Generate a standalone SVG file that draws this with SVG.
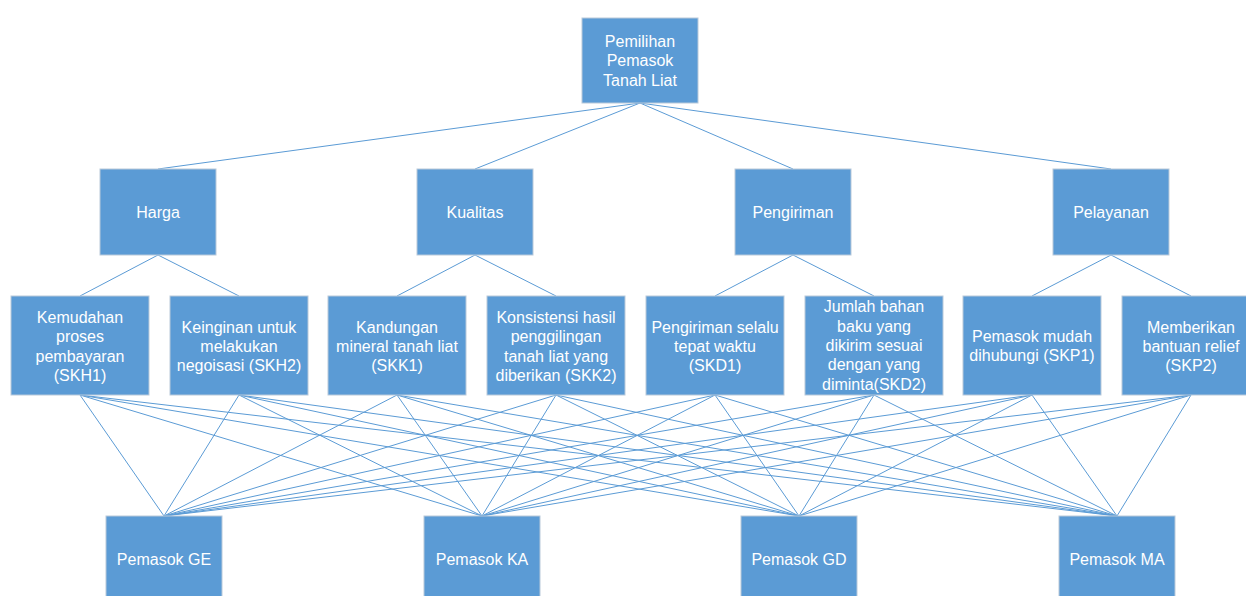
<svg xmlns="http://www.w3.org/2000/svg" width="1246" height="596" viewBox="0 0 1246 596">
  <style>
    .box { fill: #5b9bd5; stroke: #b9c9da; stroke-width: 1; }
    .lbl { fill: #ffffff; font-family: "Liberation Sans", Arial, sans-serif; font-size: 16px; text-anchor: middle; }
    .link { stroke: #5b9bd5; stroke-width: 1; fill: none; }
  </style>
  <rect width="1246" height="596" fill="#ffffff"/>

  <!-- connectors -->
  <g id="connectors" class="link">
    <!-- goal to criteria -->
    <line x1="640" y1="103" x2="158" y2="169"/>
    <line x1="640" y1="103" x2="475" y2="169"/>
    <line x1="640" y1="103" x2="793" y2="169"/>
    <line x1="640" y1="103" x2="1111" y2="169"/>
    <!-- criteria to sub-criteria -->
    <line x1="158" y1="255" x2="80" y2="296"/>
    <line x1="158" y1="255" x2="239" y2="296"/>
    <line x1="475" y1="255" x2="397" y2="296"/>
    <line x1="475" y1="255" x2="556" y2="296"/>
    <line x1="793" y1="255" x2="715" y2="296"/>
    <line x1="793" y1="255" x2="874" y2="296"/>
    <line x1="1111" y1="255" x2="1032" y2="296"/>
    <line x1="1111" y1="255" x2="1191" y2="296"/>
    <!-- sub-criteria to alternatives -->
    <line x1="80" y1="395" x2="164" y2="516"/><line x1="80" y1="395" x2="482" y2="516"/><line x1="80" y1="395" x2="799" y2="516"/><line x1="80" y1="395" x2="1117" y2="516"/>
    <line x1="239" y1="395" x2="164" y2="516"/><line x1="239" y1="395" x2="482" y2="516"/><line x1="239" y1="395" x2="799" y2="516"/><line x1="239" y1="395" x2="1117" y2="516"/>
    <line x1="397" y1="395" x2="164" y2="516"/><line x1="397" y1="395" x2="482" y2="516"/><line x1="397" y1="395" x2="799" y2="516"/><line x1="397" y1="395" x2="1117" y2="516"/>
    <line x1="556" y1="395" x2="164" y2="516"/><line x1="556" y1="395" x2="482" y2="516"/><line x1="556" y1="395" x2="799" y2="516"/><line x1="556" y1="395" x2="1117" y2="516"/>
    <line x1="715" y1="395" x2="164" y2="516"/><line x1="715" y1="395" x2="482" y2="516"/><line x1="715" y1="395" x2="799" y2="516"/><line x1="715" y1="395" x2="1117" y2="516"/>
    <line x1="874" y1="395" x2="164" y2="516"/><line x1="874" y1="395" x2="482" y2="516"/><line x1="874" y1="395" x2="799" y2="516"/><line x1="874" y1="395" x2="1117" y2="516"/>
    <line x1="1032" y1="395" x2="164" y2="516"/><line x1="1032" y1="395" x2="482" y2="516"/><line x1="1032" y1="395" x2="799" y2="516"/><line x1="1032" y1="395" x2="1117" y2="516"/>
    <line x1="1191" y1="395" x2="164" y2="516"/><line x1="1191" y1="395" x2="482" y2="516"/><line x1="1191" y1="395" x2="799" y2="516"/><line x1="1191" y1="395" x2="1117" y2="516"/>
  </g>

  <!-- goal -->
  <g id="goal">
    <rect class="box" x="582" y="18" width="116" height="85"/>
    <text class="lbl" x="640"><tspan x="640" y="47">Pemilihan</tspan><tspan x="640" y="66.4">Pemasok</tspan><tspan x="640" y="85.8">Tanah Liat</tspan></text>
  </g>

  <!-- criteria -->
  <g id="harga">
    <rect class="box" x="100" y="169" width="116" height="86"/>
    <text class="lbl" x="158" y="217.5">Harga</text>
  </g>
  <g id="kualitas">
    <rect class="box" x="417" y="169" width="116" height="86"/>
    <text class="lbl" x="475" y="217.5">Kualitas</text>
  </g>
  <g id="pengiriman">
    <rect class="box" x="735" y="169" width="116" height="86"/>
    <text class="lbl" x="793" y="217.5">Pengiriman</text>
  </g>
  <g id="pelayanan">
    <rect class="box" x="1053" y="169" width="116" height="86"/>
    <text class="lbl" x="1111" y="217.5">Pelayanan</text>
  </g>

  <!-- sub-criteria -->
  <g id="skh1">
    <rect class="box" x="11" y="296" width="138" height="99"/>
    <text class="lbl"><tspan x="80" y="322.9">Kemudahan</tspan><tspan x="80" y="342.3">proses</tspan><tspan x="80" y="361.7">pembayaran</tspan><tspan x="80" y="381.1">(SKH1)</tspan></text>
  </g>
  <g id="skh2">
    <rect class="box" x="170" y="296" width="138" height="99"/>
    <text class="lbl"><tspan x="239" y="332.6">Keinginan untuk</tspan><tspan x="239" y="352">melakukan</tspan><tspan x="239" y="371.4">negoisasi (SKH2)</tspan></text>
  </g>
  <g id="skk1">
    <rect class="box" x="328" y="296" width="138" height="99"/>
    <text class="lbl"><tspan x="397" y="332.6">Kandungan</tspan><tspan x="397" y="352">mineral tanah liat</tspan><tspan x="397" y="371.4">(SKK1)</tspan></text>
  </g>
  <g id="skk2">
    <rect class="box" x="487" y="296" width="138" height="99"/>
    <text class="lbl"><tspan x="556" y="322.9">Konsistensi hasil</tspan><tspan x="556" y="342.3">penggilingan</tspan><tspan x="556" y="361.7">tanah liat yang</tspan><tspan x="556" y="381.1">diberikan (SKK2)</tspan></text>
  </g>
  <g id="skd1">
    <rect class="box" x="646" y="296" width="138" height="99"/>
    <text class="lbl"><tspan x="715" y="332.6">Pengiriman selalu</tspan><tspan x="715" y="352">tepat waktu</tspan><tspan x="715" y="371.4">(SKD1)</tspan></text>
  </g>
  <g id="skd2">
    <rect class="box" x="805" y="296" width="138" height="99"/>
    <text class="lbl"><tspan x="874" y="312.2">Jumlah bahan</tspan><tspan x="874" y="331.6">baku yang</tspan><tspan x="874" y="351">dikirim sesuai</tspan><tspan x="874" y="370.4">dengan yang</tspan><tspan x="874" y="389.8">diminta(SKD2)</tspan></text>
  </g>
  <g id="skp1">
    <rect class="box" x="963" y="296" width="138" height="99"/>
    <text class="lbl"><tspan x="1032" y="341.8">Pemasok mudah</tspan><tspan x="1032" y="361.2">dihubungi (SKP1)</tspan></text>
  </g>
  <g id="skp2">
    <rect class="box" x="1122" y="296" width="138" height="99"/>
    <text class="lbl"><tspan x="1191" y="332.6">Memberikan</tspan><tspan x="1191" y="352">bantuan relief</tspan><tspan x="1191" y="371.4">(SKP2)</tspan></text>
  </g>

  <!-- alternatives -->
  <g id="alt-ge">
    <rect class="box" x="106" y="516" width="116" height="90"/>
    <text class="lbl" x="164" y="565">Pemasok GE</text>
  </g>
  <g id="alt-ka">
    <rect class="box" x="424" y="516" width="116" height="90"/>
    <text class="lbl" x="482" y="565">Pemasok KA</text>
  </g>
  <g id="alt-gd">
    <rect class="box" x="741" y="516" width="116" height="90"/>
    <text class="lbl" x="799" y="565">Pemasok GD</text>
  </g>
  <g id="alt-ma">
    <rect class="box" x="1059" y="516" width="116" height="90"/>
    <text class="lbl" x="1117" y="565">Pemasok MA</text>
  </g>
</svg>
